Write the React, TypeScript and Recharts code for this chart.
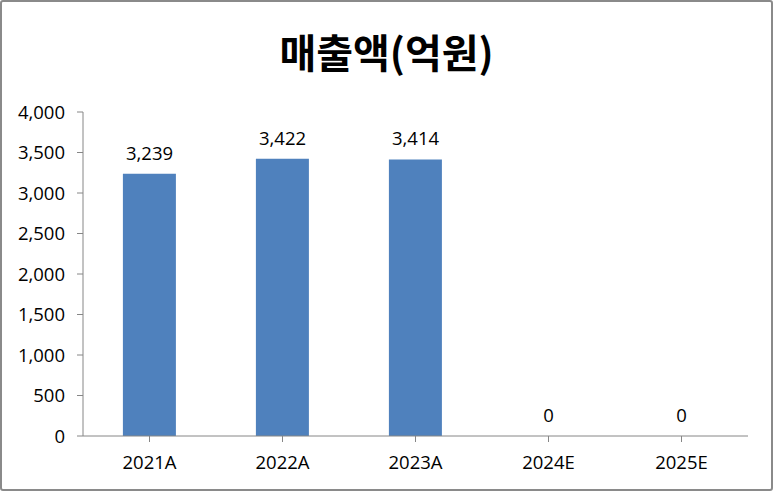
import React from "react";
import { ComposedChart, Bar, Line, XAxis, YAxis, LabelList } from "recharts";

const categories = ["2021A", "2022A", "2023A", "2024E", "2025E"];
const revenue = [3239, 3422, 3414, 0, 0];
const yTicks = [0, 500, 1000, 1500, 2000, 2500, 3000, 3500, 4000];

const data = categories.map((c, i) => ({ name: c, value: revenue[i] }));

const fmt = (v: number) => v.toLocaleString("en-US");
const FONT = "'Open Sans', 'Noto Sans', sans-serif";

export default function App() {
  return (
    <div style={{ position: "fixed", left: 0, top: 0, width: 773, height: 491, background: "#fff" }}>
      <div
        style={{
          position: "absolute",
          left: 0,
          top: 0,
          width: 769,
          height: 487,
          border: "2px solid #8a8a8a",
          borderRadius: 3,
        }}
      />
      <div
        style={{
          position: "absolute",
          left: 0,
          top: 23,
          width: 773,
          textAlign: "center",
          fontFamily: "'Noto Sans CJK KR', sans-serif",
          fontWeight: 700,
          fontSize: 40,
          lineHeight: "56px",
          color: "#000",
        }}
      >
        매출액(억원)
      </div>
      <div style={{ position: "absolute", left: 0, top: 0 }}>
        <ComposedChart
          width={773}
          height={491}
          data={data}
          margin={{ top: 112, right: 25, bottom: 25, left: 0 }}
          barCategoryGap="30%"
        >
          <XAxis
            dataKey="name"
            height={30}
            axisLine={{ stroke: "#868686" }}
            tickLine={{ stroke: "#868686" }}
            tickSize={6}
            tick={{ fill: "#000", fontSize: 18.5, fontFamily: FONT }}
            tickMargin={14}
            interval={0}
          />
          <YAxis
            width={83}
            domain={[0, 4000]}
            ticks={yTicks}
            tickFormatter={fmt}
            axisLine={{ stroke: "#868686" }}
            tickLine={{ stroke: "#868686" }}
            tickSize={6}
            tickMargin={12}
            tick={{ fill: "#000", fontSize: 18.5, fontFamily: FONT }}
            interval={0}
          />
          <Bar dataKey="value" fill="#4F81BD" isAnimationActive={false} />
          <Line
            dataKey="value"
            stroke="none"
            dot={false}
            activeDot={false}
            isAnimationActive={false}
          >
            <LabelList
              dataKey="value"
              position="top"
              offset={14}
              formatter={(v: any) => fmt(Number(v))}
              style={{ fill: "#000", fontSize: 18.5, fontFamily: FONT }}
            />
          </Line>
        </ComposedChart>
      </div>
    </div>
  );
}
